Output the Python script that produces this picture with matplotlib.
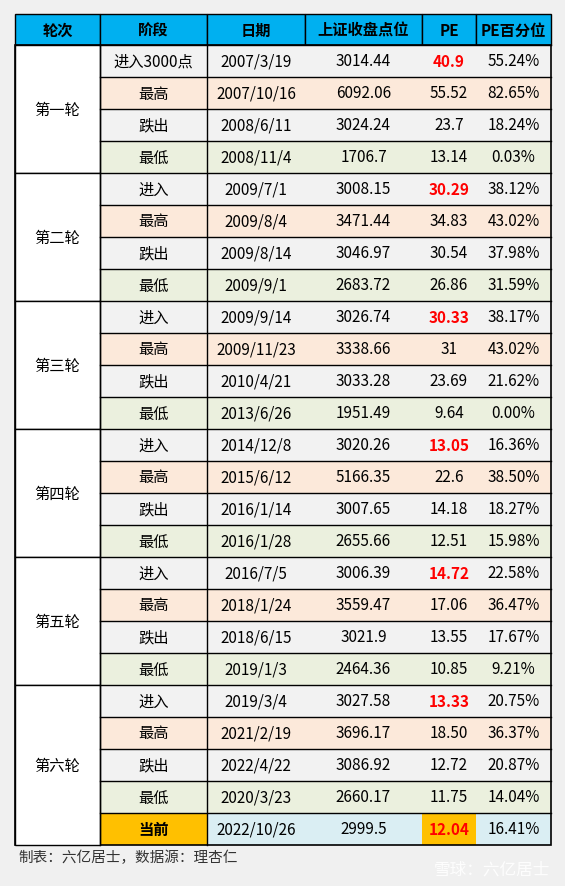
import matplotlib
matplotlib.use('Agg')
import matplotlib.pyplot as plt
from matplotlib.patches import Rectangle

plt.rcParams['font.family'] = ['Noto Sans CJK SC', 'DejaVu Sans']

headers = ['轮次', '阶段', '日期', '上证收盘点位', 'PE', 'PE百分位']
rounds = ['第一轮', '第二轮', '第三轮', '第四轮', '第五轮', '第六轮']
stages = ['进入3000点', '最高', '跌出', '最低',
          '进入', '最高', '跌出', '最低',
          '进入', '最高', '跌出', '最低',
          '进入', '最高', '跌出', '最低',
          '进入', '最高', '跌出', '最低',
          '进入', '最高', '跌出', '最低', '当前']
dates = ['2007/3/19', '2007/10/16', '2008/6/11', '2008/11/4',
         '2009/7/1', '2009/8/4', '2009/8/14', '2009/9/1',
         '2009/9/14', '2009/11/23', '2010/4/21', '2013/6/26',
         '2014/12/8', '2015/6/12', '2016/1/14', '2016/1/28',
         '2016/7/5', '2018/1/24', '2018/6/15', '2019/1/3',
         '2019/3/4', '2021/2/19', '2022/4/22', '2020/3/23', '2022/10/26']
closes = ['3014.44', '6092.06', '3024.24', '1706.7',
          '3008.15', '3471.44', '3046.97', '2683.72',
          '3026.74', '3338.66', '3033.28', '1951.49',
          '3020.26', '5166.35', '3007.65', '2655.66',
          '3006.39', '3559.47', '3021.9', '2464.36',
          '3027.58', '3696.17', '3086.92', '2660.17', '2999.5']
pe = ['40.9', '55.52', '23.7', '13.14',
      '30.29', '34.83', '30.54', '26.86',
      '30.33', '31', '23.69', '9.64',
      '13.05', '22.6', '14.18', '12.51',
      '14.72', '17.06', '13.55', '10.85',
      '13.33', '18.50', '12.72', '11.75', '12.04']
pe_pct = ['55.24%', '82.65%', '18.24%', '0.03%',
          '38.12%', '43.02%', '37.98%', '31.59%',
          '38.17%', '43.02%', '21.62%', '0.00%',
          '16.36%', '38.50%', '18.27%', '15.98%',
          '22.58%', '36.47%', '17.67%', '9.21%',
          '20.75%', '36.37%', '20.87%', '14.04%', '16.41%']

cols = [15, 100, 207, 305, 422, 476, 551]
top, head_h, row_h = 15, 31, 32
stage_colors = {'进入': '#F2F2F2', '最高': '#FCE9DA', '跌出': '#F2F2F2', '最低': '#EBF0DE'}
fs = 11

fig = plt.figure(figsize=(5.65, 8.87), dpi=100, facecolor='#F0F0F0')
ax = fig.add_axes([0, 0, 1, 1])
ax.set_xlim(0, 565)
ax.set_ylim(887, 0)
ax.axis('off')

# 表头
for j, h in enumerate(headers):
    ax.add_patch(Rectangle((cols[j], top), cols[j+1]-cols[j], head_h, fc='#00B0F0', ec='black', lw=1))
    ax.text((cols[j]+cols[j+1])/2, top+head_h/2, h, ha='center', va='center', fontsize=fs, fontweight='bold')

y0 = top + head_h
n = len(stages)
for i in range(n):
    y = y0 + i*row_h
    key = stages[i][:2]
    last = stages[i] == '当前'
    bg = '#DAEEF3' if last else stage_colors[key]
    ax.add_patch(Rectangle((cols[2], y), cols[6]-cols[2], row_h, fc=bg, ec='none'))
    ax.add_patch(Rectangle((cols[1], y), cols[2]-cols[1], row_h, fc='#FFC000' if last else bg, ec='none'))
    if last:
        ax.add_patch(Rectangle((cols[4], y), cols[5]-cols[4], row_h, fc='#FFC000', ec='none'))
    ax.plot([cols[1], cols[6]], [y, y], color='black', lw=1)
    vals = [stages[i], dates[i], closes[i], pe[i], pe_pct[i]]
    for j, v in enumerate(vals, start=1):
        red = j == 4 and (key == '进入' or last)
        bold = red or (last and j == 1)
        ax.text((cols[j]+cols[j+1])/2, y+row_h/2, v, ha='center', va='center', fontsize=fs,
                color='red' if red else 'black', fontweight='bold' if bold else 'normal')

y_end = y0 + n*row_h
for x in (cols[1], cols[2]):
    ax.plot([x, x], [y0, y_end], color='black', lw=1)
ax.add_patch(Rectangle((cols[0], y0), cols[6]-cols[0], y_end-y0, fc='none', ec='black', lw=1.2))

# 轮次列
for k, r in enumerate(rounds):
    nrows = 5 if k == len(rounds)-1 else 4
    y = y0 + k*4*row_h
    ax.add_patch(Rectangle((cols[0], y), cols[1]-cols[0], nrows*row_h, fc='white', ec='black', lw=1))
    ax.text((cols[0]+cols[1])/2, y+nrows*row_h/2, r, ha='center', va='center', fontsize=fs)

ax.text(18, 858, '制表：六亿居士，数据源：理杏仁', ha='left', va='center', fontsize=10.5, color='#333333')
ax.text(550, 870, '雪球：六亿居士', ha='right', va='center', fontsize=12, color='white', alpha=0.9)

fig.savefig('out.png', dpi=100, facecolor=fig.get_facecolor())
